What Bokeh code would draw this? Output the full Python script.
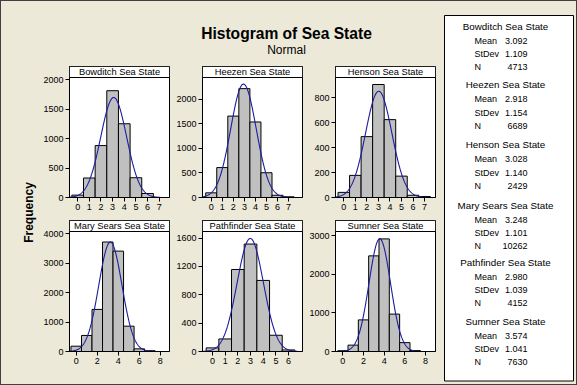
import numpy as np
from bokeh.plotting import figure
from bokeh.layouts import row, column
from bokeh.models import Range1d, FixedTicker, BoxAnnotation, Label, Spacer
from bokeh.core.properties import value
from bokeh.embed import file_html
from bokeh.resources import INLINE

# ---------------- data ----------------
names = ["Bowditch Sea State", "Heezen Sea State", "Henson Sea State",
         "Mary Sears Sea State", "Pathfinder Sea State", "Sumner Sea State"]
means = [3.092, 2.918, 3.028, 3.248, 2.980, 3.574]
stdevs = [1.109, 1.154, 1.140, 1.101, 1.039, 1.041]
ns = [4713, 6689, 2429, 10262, 4152, 7630]
mean_text = ["3.092", "2.918", "3.028", "3.248", "2.980", "3.574"]
stdev_text = ["1.109", "1.154", "1.140", "1.101", "1.039", "1.041"]

bowditch_bins = [0, 1, 2, 3, 4, 5, 6]
bowditch_counts = [40, 330, 880, 1810, 1250, 335, 68]
heezen_bins = [0, 1, 2, 3, 4, 5, 6, 7]
heezen_counts = [95, 610, 1660, 2220, 1540, 505, 45, 14]
henson_bins = [0, 1, 2, 3, 4, 5, 6, 7]
henson_counts = [41, 177, 487, 904, 623, 171, 18, 8]
marysears_bins = [0, 1, 2, 3, 4, 5, 6, 7]
marysears_counts = [180, 545, 1430, 3720, 3410, 860, 90, 27]
pathfinder_bins = [0, 1, 2, 3, 4, 5, 6]
pathfinder_counts = [51, 177, 1156, 1515, 1002, 229, 22]
sumner_bins = [0, 1, 2, 3, 4, 5, 6, 7]
sumner_counts = [20, 165, 820, 2480, 2920, 970, 230, 25]

x_ticks_a = [0, 1, 2, 3, 4, 5, 6, 7]
x_ticks_b = [0, 2, 4, 6, 8]
x_ticks_c = [0, 1, 2, 3, 4, 5, 6]
y_ticks_bowditch = [0, 500, 1000, 1500, 2000]
y_ticks_heezen = [0, 500, 1000, 1500, 2000]
y_ticks_henson = [0, 200, 400, 600, 800]
y_ticks_marysears = [0, 1000, 2000, 3000, 4000]
y_ticks_pathfinder = [0, 400, 800, 1200, 1600]
y_ticks_sumner = [0, 1000, 2000, 3000]

# axis scales
x_ranges = [(-0.70, 7.88), (-0.79, 8.26), (-0.72, 7.95),
            (-0.64, 8.87), (-0.79, 7.10), (-0.71, 8.97)]
y_tops = [2034, 2447, 960, 4077, 1692, 3112]
curve_ends = [7.1, 7.35, 7.5, 7.5, 6.7, 7.5]

# ---------------- style ----------------
BG = "#ECE9D8"
BAR = "#C0C0C0"
CURVE = "#1C1CA0"
FONT = "Liberation Sans"
PLOT_H = 120
HEAD_H = 11


def panel(idx, bins, counts, xt, yt):
    name, mu, sd, n = names[idx], means[idx], stdevs[idx], ns[idx]
    x0, x1 = x_ranges[idx]
    ymax = y_tops[idx]
    ytop = ymax * (PLOT_H + HEAD_H) / PLOT_H
    p = figure(width=133, height=154, x_range=Range1d(x0, x1), y_range=Range1d(0, ytop),
               output_backend="svg", toolbar_location=None,
               min_border_left=32, min_border_right=1, min_border_top=1, min_border_bottom=22)
    p.background_fill_color = "white"
    p.border_fill_color = BG
    p.outline_line_color = "black"
    p.outline_line_width = 1
    p.xgrid.visible = False
    p.ygrid.visible = False
    b = np.array(bins, dtype=float)
    p.quad(left=b - 0.5, right=b + 0.5, bottom=0, top=counts,
           fill_color=BAR, line_color="black", line_width=1)
    xs = np.linspace(x0, curve_ends[idx], 300)
    ys = n * np.exp(-0.5 * ((xs - mu) / sd) ** 2) / (sd * np.sqrt(2 * np.pi))
    p.line(xs, ys, line_color=CURVE, line_width=1.1)
    p.add_layout(BoxAnnotation(bottom=ymax, fill_color="white", fill_alpha=1.0,
                               line_color="black", line_width=1, line_alpha=1.0))
    p.add_layout(Label(x=(x0 + x1) / 2, y=(ymax + ytop) / 2, text=name,
                       text_align="center", text_baseline="middle",
                       text_font=FONT, text_font_size="9.3px", text_color="black"))
    p.xaxis.ticker = FixedTicker(ticks=xt)
    p.yaxis.ticker = FixedTicker(ticks=yt)
    for ax in (p.xaxis, p.yaxis):
        ax.major_label_text_font = FONT
        ax.major_label_text_font_size = "9px"
        ax.major_label_text_color = "black"
        ax.major_tick_out = 4
        ax.major_tick_in = 0
        ax.minor_tick_out = 0
        ax.minor_tick_in = 0
        ax.axis_line_color = "black"
        ax.major_tick_line_color = "black"
        ax.major_label_standoff = 2
    return p


f1 = panel(0, bowditch_bins, bowditch_counts, x_ticks_a, y_ticks_bowditch)
f2 = panel(1, heezen_bins, heezen_counts, x_ticks_a, y_ticks_heezen)
f3 = panel(2, henson_bins, henson_counts, x_ticks_a, y_ticks_henson)
f4 = panel(3, marysears_bins, marysears_counts, x_ticks_b, y_ticks_marysears)
f5 = panel(4, pathfinder_bins, pathfinder_counts, x_ticks_c, y_ticks_pathfinder)
f6 = panel(5, sumner_bins, sumner_counts, x_ticks_b, y_ticks_sumner)


def deco(w, h):
    d = figure(width=w, height=h, x_range=Range1d(0, w), y_range=Range1d(0, h),
               output_backend="svg", toolbar_location=None,
               x_axis_location=None, y_axis_location=None, min_border=0)
    d.xgrid.visible = False
    d.ygrid.visible = False
    d.outline_line_color = None
    d.background_fill_color = BG
    d.border_fill_color = BG
    return d


# title block
title_fig = deco(439, 64)
title_fig.text(x=[285], y=[32], text=["Histogram of Sea State"], text_align="center",
               text_baseline="alphabetic", text_font=value(FONT), text_font_style="bold",
               text_font_size="15.6px", text_color="black")
title_fig.text(x=[285], y=[16], text=["Normal"], text_align="center",
               text_baseline="alphabetic", text_font=value(FONT),
               text_font_size="12px", text_color="black")

# y label
freq_fig = deco(36, 308)
freq_fig.text(x=[27.3], y=[161], text=["Frequency"], angle=np.pi / 2, text_align="center",
              text_baseline="middle", text_font=value(FONT), text_font_style="bold",
              text_font_size="12px", text_color="black")

# legend / statistics table
leg = deco(136, 383)
leg.quad(left=[4], right=[133], bottom=[3.5], top=[369], fill_color="white",
         line_color="black", line_width=1)
group_y = [25.7, 84, 144, 204.5, 261.5, 320.7]
offs = [0, 14.5, 28.2, 41]
for i in range(6):
    gy = group_y[i]
    leg.text(x=[65], y=[384 - gy], text=[names[i]], text_align="center", text_baseline="middle",
             text_font=value(FONT), text_font_size="9.8px", text_color="black")
    labs = ["Mean", "StDev", "N"]
    vals = [mean_text[i], stdev_text[i], str(ns[i])]
    ys = [384 - (gy + o) for o in offs[1:]]
    leg.text(x=[34, 34, 34], y=ys, text=labs, text_align="left", text_baseline="middle",
             text_font=value(FONT), text_font_size="9px", text_color="black")
    leg.text(x=[87, 87, 87], y=ys, text=vals, text_align="right", text_baseline="middle",
             text_font=value(FONT), text_font_size="9px", text_color="black")

grid = column(row(f1, f2, f3), row(f4, f5, f6))
mid = row(freq_fig, grid, Spacer(width=4, height=308))
left = column(title_fig, mid, Spacer(width=439, height=11))
root = row(left, leg, styles={"border": "1px solid #404040", "background-color": BG})

html = file_html(root, INLINE)
html = html.replace("</head>", "<style>html,body{margin:0;padding:0;overflow:hidden;}</style></head>", 1)
open("out.html", "w").write(html)
